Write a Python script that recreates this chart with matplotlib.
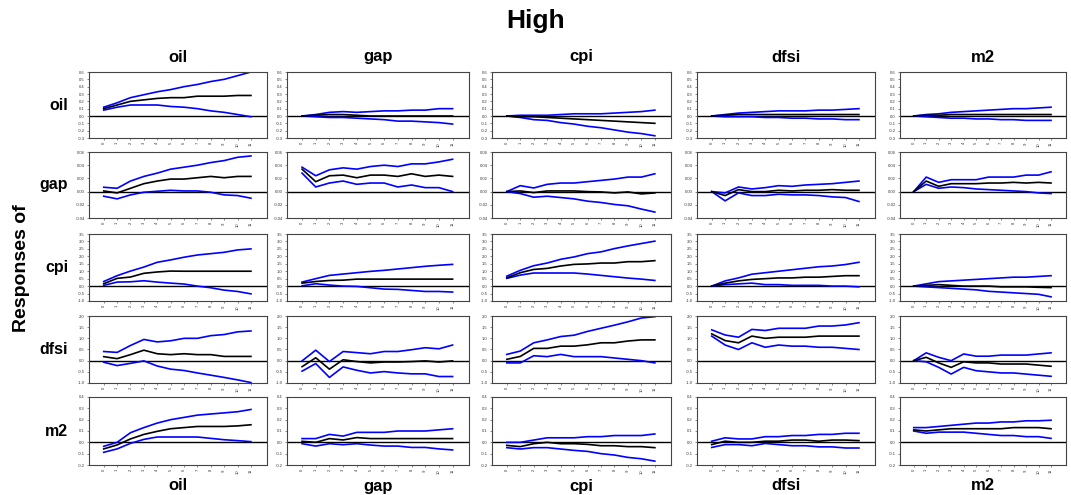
import matplotlib
matplotlib.use("Agg")
import matplotlib.pyplot as plt
import numpy as np

plt.rcParams['font.family'] = ['Liberation Sans', 'DejaVu Sans']

variables = ["oil", "gap", "cpi", "dfsi", "m2"]
horizons = list(range(12))
title = "High"
ylabel = "Responses of"

# y-axis tick definitions per response row (min, max, step)
row_ticks = {
    "oil": (-0.3, 0.6, 0.1),
    "gap": (-0.04, 0.06, 0.02),
    "cpi": (-1.0, 3.5, 0.5),
    "dfsi": (-1.0, 2.0, 0.5),
    "m2": (-0.2, 0.4, 0.1),
}

# ---- response of oil (columns: shock oil, gap, cpi, dfsi, m2)
med_oil = [
    [0.10, 0.15, 0.20, 0.22, 0.24, 0.25, 0.25, 0.27, 0.27, 0.27, 0.28, 0.28],
    [0.00, 0.01, 0.02, 0.02, 0.01, 0.00, 0.00, 0.00, 0.00, 0.00, 0.00, 0.00],
    [0.00, -0.01, -0.01, -0.02, -0.03, -0.04, -0.05, -0.06, -0.07, -0.08, -0.09, -0.10],
    [0.00, 0.01, 0.02, 0.02, 0.02, 0.02, 0.02, 0.02, 0.02, 0.02, 0.02, 0.02],
    [0.00, 0.01, 0.01, 0.02, 0.02, 0.02, 0.02, 0.02, 0.02, 0.02, 0.02, 0.02],
]
lo_oil = [
    [0.08, 0.12, 0.15, 0.15, 0.15, 0.13, 0.12, 0.10, 0.07, 0.05, 0.02, -0.01],
    [0.00, -0.01, -0.02, -0.02, -0.03, -0.04, -0.05, -0.07, -0.07, -0.08, -0.09, -0.11],
    [0.00, -0.02, -0.05, -0.06, -0.09, -0.11, -0.14, -0.16, -0.19, -0.22, -0.24, -0.27],
    [0.00, -0.01, -0.01, -0.01, -0.02, -0.02, -0.03, -0.03, -0.04, -0.04, -0.05, -0.05],
    [0.00, -0.01, -0.02, -0.03, -0.03, -0.04, -0.04, -0.05, -0.05, -0.06, -0.06, -0.06],
]
hi_oil = [
    [0.12, 0.18, 0.25, 0.29, 0.33, 0.36, 0.40, 0.43, 0.47, 0.50, 0.55, 0.60],
    [0.00, 0.02, 0.05, 0.06, 0.05, 0.06, 0.07, 0.07, 0.08, 0.08, 0.10, 0.10],
    [0.00, 0.01, 0.01, 0.01, 0.02, 0.03, 0.03, 0.03, 0.04, 0.05, 0.06, 0.08],
    [0.00, 0.02, 0.04, 0.05, 0.06, 0.07, 0.07, 0.07, 0.08, 0.08, 0.09, 0.10],
    [0.00, 0.02, 0.03, 0.05, 0.06, 0.07, 0.08, 0.09, 0.10, 0.10, 0.11, 0.12],
]

# ---- response of gap
med_gap = [
    [0.001, -0.002, 0.005, 0.012, 0.016, 0.019, 0.019, 0.021, 0.023, 0.021, 0.023, 0.023],
    [0.034, 0.015, 0.024, 0.025, 0.021, 0.025, 0.025, 0.023, 0.027, 0.023, 0.025, 0.023],
    [0.000, 0.001, -0.0015, 0.001, 0.001, 0.001, 0.000, -0.0005, -0.002, -0.0005, -0.0035, -0.002],
    [0.000, -0.006, 0.003, 0.000, 0.000, 0.002, 0.001, 0.002, 0.002, 0.003, 0.002, 0.002],
    [0.000, 0.016, 0.008, 0.012, 0.012, 0.012, 0.013, 0.013, 0.014, 0.013, 0.014, 0.013],
]
lo_gap = [
    [-0.007, -0.011, -0.005, -0.001, 0.0005, 0.002, 0.001, 0.001, -0.001, -0.005, -0.006, -0.010],
    [0.028, 0.007, 0.013, 0.016, 0.011, 0.013, 0.013, 0.007, 0.010, 0.006, 0.006, 0.000],
    [0.000, -0.003, -0.0085, -0.007, -0.009, -0.011, -0.0145, -0.0165, -0.0195, -0.0215, -0.0265, -0.031],
    [0.000, -0.014, -0.002, -0.006, -0.006, -0.004, -0.005, -0.005, -0.006, -0.008, -0.009, -0.015],
    [0.000, 0.011, 0.005, 0.007, 0.006, 0.004, 0.003, 0.002, 0.001, 0.000, -0.002, -0.003],
]
hi_gap = [
    [0.0066, 0.005, 0.016, 0.023, 0.028, 0.034, 0.037, 0.040, 0.044, 0.047, 0.052, 0.054],
    [0.037, 0.024, 0.033, 0.036, 0.034, 0.038, 0.040, 0.038, 0.042, 0.042, 0.045, 0.049],
    [0.000, 0.009, 0.0055, 0.011, 0.013, 0.013, 0.015, 0.017, 0.019, 0.022, 0.022, 0.027],
    [0.000, -0.002, 0.007, 0.004, 0.006, 0.009, 0.008, 0.010, 0.011, 0.012, 0.014, 0.016],
    [0.000, 0.022, 0.014, 0.018, 0.018, 0.018, 0.022, 0.022, 0.022, 0.025, 0.025, 0.030],
]

# ---- response of cpi
med_cpi = [
    [0.16, 0.52, 0.61, 0.86, 0.95, 1.01, 1.00, 1.00, 1.00, 1.00, 1.00, 1.00],
    [0.20, 0.31, 0.38, 0.40, 0.47, 0.47, 0.47, 0.47, 0.47, 0.47, 0.47, 0.47],
    [0.56, 0.90, 1.12, 1.19, 1.35, 1.46, 1.49, 1.55, 1.55, 1.64, 1.64, 1.71],
    [0.00, 0.20, 0.35, 0.45, 0.50, 0.55, 0.55, 0.60, 0.60, 0.65, 0.70, 0.70],
    [0.00, 0.05, 0.10, 0.05, 0.00, 0.00, 0.00, -0.05, -0.05, -0.05, -0.08, -0.10],
]
lo_cpi = [
    [0.05, 0.27, 0.29, 0.36, 0.27, 0.20, 0.14, 0.00, -0.11, -0.27, -0.36, -0.52],
    [0.02, 0.16, 0.07, 0.00, -0.02, -0.11, -0.20, -0.22, -0.29, -0.36, -0.36, -0.40],
    [0.52, 0.74, 0.88, 0.88, 0.88, 0.88, 0.81, 0.72, 0.63, 0.54, 0.47, 0.38],
    [0.00, 0.10, 0.15, 0.20, 0.10, 0.10, 0.05, 0.05, 0.05, 0.00, 0.00, -0.05],
    [0.00, -0.05, -0.10, -0.15, -0.20, -0.25, -0.35, -0.40, -0.45, -0.50, -0.55, -0.72],
]
hi_cpi = [
    [0.31, 0.70, 1.01, 1.28, 1.60, 1.76, 1.94, 2.09, 2.18, 2.27, 2.43, 2.50],
    [0.27, 0.50, 0.72, 0.81, 0.90, 0.99, 1.06, 1.15, 1.24, 1.33, 1.40, 1.46],
    [0.67, 1.06, 1.37, 1.55, 1.80, 1.96, 2.18, 2.30, 2.52, 2.70, 2.86, 3.02],
    [0.00, 0.35, 0.55, 0.80, 0.90, 1.00, 1.10, 1.20, 1.30, 1.35, 1.45, 1.60],
    [0.00, 0.15, 0.30, 0.35, 0.40, 0.45, 0.50, 0.55, 0.60, 0.60, 0.65, 0.70],
]

# ---- response of dfsi
med_dfsi = [
    [0.18, 0.09, 0.27, 0.47, 0.31, 0.27, 0.31, 0.27, 0.27, 0.19, 0.19, 0.19],
    [-0.27, 0.13, -0.38, 0.04, -0.04, -0.10, -0.06, -0.06, -0.04, -0.01, -0.06, -0.01],
    [0.06, 0.19, 0.55, 0.55, 0.65, 0.65, 0.71, 0.80, 0.80, 0.88, 0.93, 0.93],
    [1.20, 0.90, 0.80, 1.10, 1.00, 1.05, 1.05, 1.05, 1.10, 1.10, 1.10, 1.10],
    [0.00, 0.15, -0.10, -0.30, -0.05, -0.10, -0.10, -0.15, -0.15, -0.15, -0.20, -0.25],
]
lo_dfsi = [
    [-0.07, -0.22, -0.12, -0.01, -0.24, -0.38, -0.44, -0.55, -0.65, -0.75, -0.86, -0.98],
    [-0.47, -0.13, -0.75, -0.28, -0.43, -0.55, -0.49, -0.55, -0.59, -0.59, -0.71, -0.71],
    [-0.10, -0.10, 0.22, 0.18, 0.28, 0.18, 0.18, 0.18, 0.12, 0.06, 0.00, -0.10],
    [1.10, 0.70, 0.50, 0.80, 0.60, 0.70, 0.65, 0.65, 0.60, 0.60, 0.55, 0.50],
    [0.00, -0.05, -0.30, -0.60, -0.30, -0.45, -0.50, -0.55, -0.55, -0.60, -0.65, -0.70],
]
hi_dfsi = [
    [0.41, 0.37, 0.68, 0.95, 0.84, 0.89, 1.00, 1.00, 1.12, 1.17, 1.29, 1.33],
    [-0.01, 0.47, -0.04, 0.41, 0.36, 0.31, 0.41, 0.41, 0.49, 0.58, 0.53, 0.70],
    [0.28, 0.43, 0.80, 0.93, 1.08, 1.14, 1.31, 1.45, 1.59, 1.74, 1.91, 1.97],
    [1.38, 1.15, 1.05, 1.40, 1.35, 1.45, 1.45, 1.45, 1.55, 1.55, 1.60, 1.70],
    [0.00, 0.35, 0.15, 0.00, 0.30, 0.20, 0.20, 0.25, 0.25, 0.25, 0.30, 0.35],
]

# ---- response of m2
med_m2 = [
    [-0.058, -0.023, 0.030, 0.070, 0.097, 0.120, 0.130, 0.140, 0.140, 0.140, 0.145, 0.155],
    [0.009, 0.000, 0.033, 0.021, 0.042, 0.033, 0.033, 0.033, 0.033, 0.033, 0.033, 0.033],
    [-0.027, -0.038, -0.012, 0.000, -0.012, -0.012, -0.018, -0.030, -0.030, -0.038, -0.038, -0.047],
    [-0.020, 0.010, 0.000, 0.000, 0.010, 0.010, 0.020, 0.020, 0.010, 0.020, 0.020, 0.015],
    [0.110, 0.100, 0.110, 0.120, 0.120, 0.120, 0.120, 0.120, 0.130, 0.130, 0.130, 0.120],
]
lo_m2 = [
    [-0.088, -0.058, -0.009, 0.026, 0.047, 0.047, 0.047, 0.047, 0.035, 0.023, 0.015, 0.006],
    [-0.012, -0.033, -0.012, -0.021, -0.012, -0.024, -0.033, -0.033, -0.045, -0.045, -0.058, -0.067],
    [-0.047, -0.059, -0.047, -0.047, -0.059, -0.071, -0.080, -0.100, -0.112, -0.133, -0.145, -0.166],
    [-0.045, -0.020, -0.020, -0.030, -0.010, -0.020, -0.030, -0.030, -0.040, -0.040, -0.050, -0.050],
    [0.100, 0.080, 0.090, 0.090, 0.090, 0.080, 0.070, 0.060, 0.060, 0.050, 0.050, 0.035],
]
hi_m2 = [
    [-0.035, 0.000, 0.085, 0.130, 0.170, 0.200, 0.220, 0.240, 0.250, 0.260, 0.270, 0.290],
    [0.033, 0.033, 0.070, 0.055, 0.088, 0.088, 0.088, 0.100, 0.100, 0.100, 0.110, 0.120],
    [0.000, 0.000, 0.020, 0.040, 0.040, 0.040, 0.050, 0.050, 0.060, 0.060, 0.060, 0.074],
    [0.010, 0.040, 0.030, 0.030, 0.050, 0.050, 0.060, 0.060, 0.070, 0.070, 0.080, 0.080],
    [0.130, 0.130, 0.140, 0.150, 0.160, 0.170, 0.170, 0.180, 0.180, 0.190, 0.190, 0.195],
]

med = {"oil": med_oil, "gap": med_gap, "cpi": med_cpi, "dfsi": med_dfsi, "m2": med_m2}
lo = {"oil": lo_oil, "gap": lo_gap, "cpi": lo_cpi, "dfsi": lo_dfsi, "m2": lo_m2}
hi = {"oil": hi_oil, "gap": hi_gap, "cpi": hi_cpi, "dfsi": hi_dfsi, "m2": hi_m2}

W, H = 1071, 495
fig = plt.figure(figsize=(W / 100, H / 100), dpi=100)

col_left = [89, 287, 492, 697, 900]
col_right = [267, 469, 671, 875, 1066]
row_top = [72, 152, 234, 316, 397]
row_bot = [138, 218, 301, 383, 465]


def fmt(v, step):
    if step < 0.05:
        return f"{v:.2f}"
    return f"{v:.1f}"


for i, rv in enumerate(variables):
    ymin, ymax, step = row_ticks[rv]
    yt = np.round(np.arange(ymin, ymax + step / 2, step), 4)
    for j, sv in enumerate(variables):
        l = col_left[j] / W
        b = 1 - row_bot[i] / H
        w = (col_right[j] - col_left[j]) / W
        h = (row_bot[i] - row_top[i]) / H
        ax = fig.add_axes([l, b, w, h])
        ax.axhline(0, color="black", lw=1.0, zorder=1)
        ax.plot(horizons, hi[rv][j], color="#0000ff", lw=1.2, zorder=2)
        ax.plot(horizons, lo[rv][j], color="#0000ff", lw=1.2, zorder=2)
        ax.plot(horizons, med[rv][j], color="black", lw=1.2, zorder=3)
        ax.set_xlim(-1.1, 12.2)
        ax.set_ylim(ymin, ymax)
        ax.set_yticks(yt)
        ax.set_yticklabels([fmt(v, step) for v in yt], fontsize=3)
        ax.set_xticks(horizons)
        ax.set_xticklabels([str(x) for x in horizons], fontsize=3, rotation=90)
        ax.tick_params(length=1.5, width=0.4, pad=1.5, colors="#333333")
        for s in ax.spines.values():
            s.set_linewidth(0.8)
            s.set_color("#444444")
        if i == 0:
            fig.text((col_left[j] + col_right[j]) / 2 / W, 1 - 57 / H, sv,
                     ha="center", va="center", fontsize=12, fontweight="bold")
        if i == len(variables) - 1:
            fig.text((col_left[j] + col_right[j]) / 2 / W, 1 - 486 / H, sv,
                     ha="center", va="center", fontsize=12, fontweight="bold")
    fig.text(68 / W, 1 - (row_top[i] + row_bot[i]) / 2 / H, rv,
             ha="right", va="center", fontsize=11.5, fontweight="bold")

fig.text(0.5, 1 - 21 / H, title, ha="center", va="center", fontsize=19, fontweight="bold")
fig.text(22 / W, 1 - 268 / H, ylabel, ha="center", va="center", rotation=90,
         fontsize=14, fontweight="bold")

fig.savefig("out.png", dpi=100)
